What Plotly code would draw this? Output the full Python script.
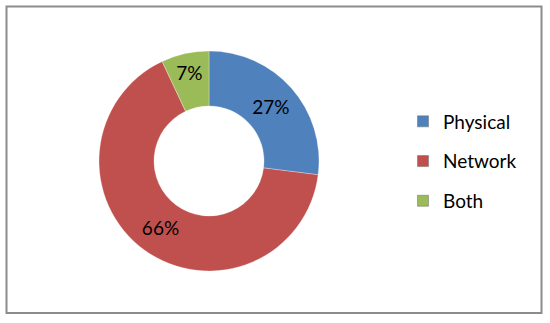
import plotly.graph_objects as go

categories = ["Physical", "Network", "Both"]
values = [27, 66, 7]
colors = ["#4F81BD", "#C0504D", "#9BBB59"]

W, H = 550, 323
FONT = "Lato, Open Sans, sans-serif"

fig = go.Figure()

fig.add_trace(go.Pie(
    labels=categories,
    values=values,
    hole=0.5,
    sort=False,
    direction="clockwise",
    rotation=0,
    marker=dict(colors=colors, line=dict(color="rgba(255,255,255,0.6)", width=0.5)),
    textinfo="percent",
    textposition="inside",
    insidetextorientation="horizontal",
    textfont=dict(family=FONT, size=19, color="#000000"),
    showlegend=False,
    domain=dict(x=[99 / W, 319 / W], y=[(H - 271) / H, (H - 51) / H]),
))

# legend entries as invisible scatter traces so rows can be spaced out
for name, col in zip(categories, colors):
    fig.add_trace(go.Scatter(
        x=[None], y=[None], mode="markers", name=name, legendgroup=name,
        marker=dict(symbol="square", size=11, color=col, line=dict(color="#6d6d6d", width=0.5)),
    ))

fig.update_layout(
    width=W, height=H,
    margin=dict(l=0, r=0, t=0, b=0),
    paper_bgcolor="white", plot_bgcolor="white",
    xaxis=dict(visible=False), yaxis=dict(visible=False),
    legend=dict(
        x=403 / W, y=0.5, xanchor="left", yanchor="middle",
        font=dict(family=FONT, size=19, color="#000000"),
        tracegroupgap=12, itemwidth=30,
    ),
    shapes=[dict(type="rect", xref="paper", yref="paper",
                 x0=6.5 / W, x1=541.5 / W, y0=1 - 313 / H, y1=1 - 6.5 / H,
                 line=dict(color="#8c8c8c", width=2))],
)

# drop the default body margin so the figure sits at the page corner
fig.write_html("out.html", config={"displayModeBar": False},
               post_script="document.body.style.margin='0';")
